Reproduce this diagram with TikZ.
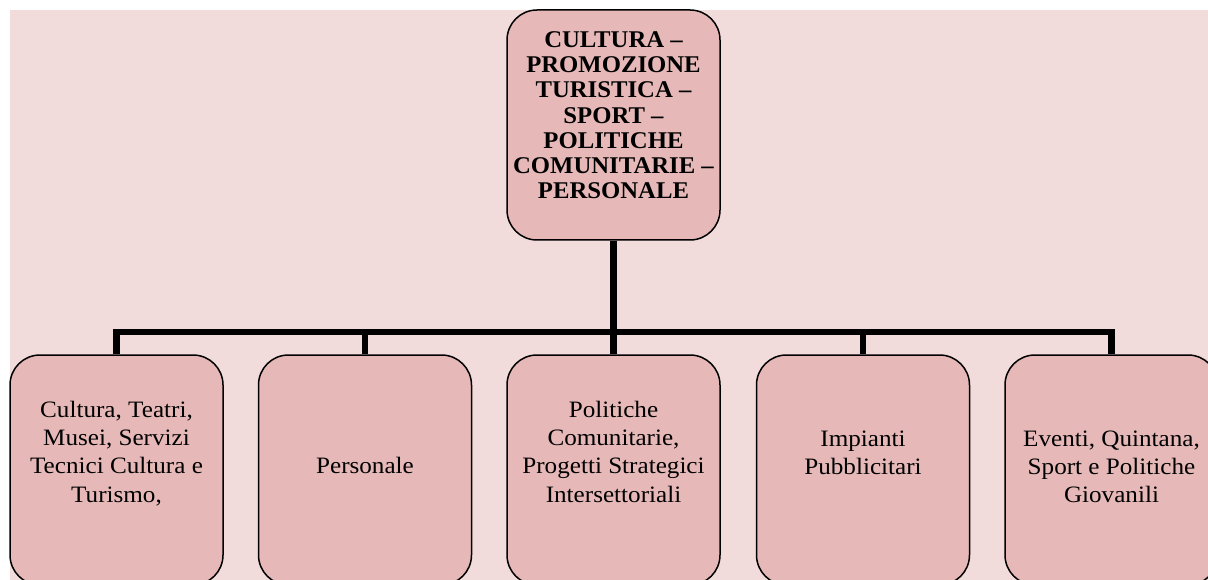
\documentclass[tikz,border=0pt]{standalone}
\usepackage{fontspec}
\setmainfont[FakeStretch=1.07]{Liberation Serif}
\newfontfamily\headfont[FakeStretch=1.03]{Liberation Serif}
\definecolor{bgpink}{HTML}{F2DCDB}
\definecolor{boxpink}{HTML}{E6B9B8}
\tikzset{
  orgbox/.style={draw=black, line width=1.5pt, fill=boxpink, rounded corners=30pt,
    minimum width=213pt, minimum height=230pt, inner sep=0pt},
  conn/.style={draw=black, line width=6.5pt, line join=miter},
  childtext/.style={anchor=north, inner sep=0pt, align=center,
    font=\fontsize{23.5}{28.3}\selectfont},
  headtext/.style={anchor=north, inner sep=0pt, align=center,
    font=\headfont\bfseries\fontsize{24}{25.3}\selectfont}
}
\begin{document}
\begin{tikzpicture}[x=1pt,y=-1pt]
\useasboundingbox (0,0) rectangle (1208,580);
\clip (0,0) rectangle (1208,580);
\fill[bgpink] (10,10) rectangle (1208,580);

\node[orgbox] (top) at (613.5,125) {};
\node[orgbox] (c1) at (116.5,470) {};
\node[orgbox] (c2) at (365,470) {};
\node[orgbox] (c3) at (613.5,470) {};
\node[orgbox] (c4) at (863,470) {};
\node[orgbox] (c5) at (1111.5,470) {};

\coordinate (bar) at (613.5,332);
\draw[conn] (top.south) -- (bar);
\draw[conn] (bar) -| (c1.north);
\draw[conn] (bar) -| (c2.north);
\draw[conn] (bar) -- (c3.north);
\draw[conn] (bar) -| (c4.north);
\draw[conn] (bar) -| (c5.north);

\node[headtext] (ttop) at (613.5,30) {\rule{0pt}{17pt}CULTURA –\\PROMOZIONE\\TURISTICA –\\SPORT –\\POLITICHE\\COMUNITARIE –\\PERSONALE};
\node[childtext] (t1) at (116.5,400) {\rule{0pt}{17pt}Cultura, Teatri,\\Musei, Servizi\\Tecnici Cultura e\\Turismo,};
\node[childtext] (t2) at (365,456) {\rule{0pt}{17pt}Personale};
\node[childtext] (t3) at (613.5,400) {\rule{0pt}{17pt}Politiche\\Comunitarie,\\Progetti Strategici\\Intersettoriali};
\node[childtext] (t4) at (863,429) {\rule{0pt}{17pt}Impianti\\Pubblicitari};
\node[childtext] (t5) at (1111.5,429) {\rule{0pt}{17pt}Eventi, Quintana,\\Sport e Politiche\\Giovanili};
\end{tikzpicture}
\end{document}
